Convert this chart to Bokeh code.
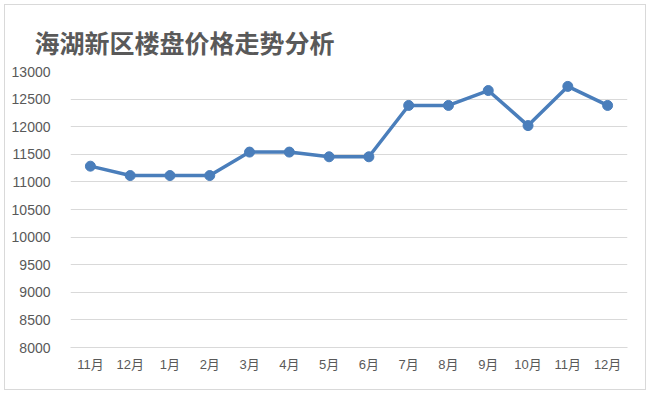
from bokeh.plotting import figure
from bokeh.models import FixedTicker, Range1d
from bokeh.embed import file_html
from bokeh.resources import INLINE

title_text = "海湖新区楼盘价格走势分析"
months = ["11月", "12月", "1月", "2月", "3月", "4月", "5月", "6月", "7月", "8月", "9月", "10月", "11月", "12月"]
prices = [11285, 11115, 11115, 11115, 11540, 11540, 11455, 11455, 12385, 12385, 12655, 12020, 12730, 12385]
y_ticks = [8000, 8500, 9000, 9500, 10000, 10500, 11000, 11500, 12000, 12500, 13000]

xs = list(range(len(months)))

p = figure(width=642, height=386, output_backend="svg", toolbar_location=None,
           x_range=Range1d(-0.5, len(months) - 0.5), y_range=Range1d(8000, 13000),
           min_border_left=65, min_border_right=20, min_border_top=66, min_border_bottom=44,
           styles={"position": "relative", "left": "4px", "top": "4px",
                   "border": "1px solid #d9d9d9", "box-sizing": "border-box"})
p.outline_line_color = None
p.background_fill_color = "white"
p.border_fill_color = "white"

p.title.text = title_text
p.title.align = "left"
p.title.offset = -36
p.title.standoff = 20
p.title.vertical_align = "top"
p.title.text_font = "Noto Sans CJK SC"
p.title.text_font_size = "25px"
p.title.text_font_style = "bold"
p.title.text_color = "#595959"

line_color = "#4a7ebb"
p.line(xs, prices, line_color=line_color, line_width=3.5)
p.scatter(xs, prices, size=10, fill_color=line_color, line_color=line_color)

p.xaxis.ticker = FixedTicker(ticks=xs)
p.xaxis.major_label_overrides = {i: m for i, m in enumerate(months)}
p.yaxis.ticker = FixedTicker(ticks=y_ticks)

for ax in (p.xaxis, p.yaxis):
    ax.major_tick_line_color = None
    ax.minor_tick_line_color = None
    ax.major_label_text_color = "#595959"
    ax.major_label_text_font = "Liberation Sans, Noto Sans CJK SC"
    ax.major_label_text_font_size = "14px"
p.xaxis.major_label_text_font_size = "13px"
p.yaxis.axis_line_color = None
p.xaxis.axis_line_color = "#d9d9d9"
p.xaxis.major_label_standoff = 3
p.yaxis.major_label_standoff = 14

p.xgrid.grid_line_color = None
p.ygrid.grid_line_color = "#d9d9d9"
p.ygrid.ticker = FixedTicker(ticks=y_ticks)

open("out.html", "w").write(file_html(p, INLINE))
